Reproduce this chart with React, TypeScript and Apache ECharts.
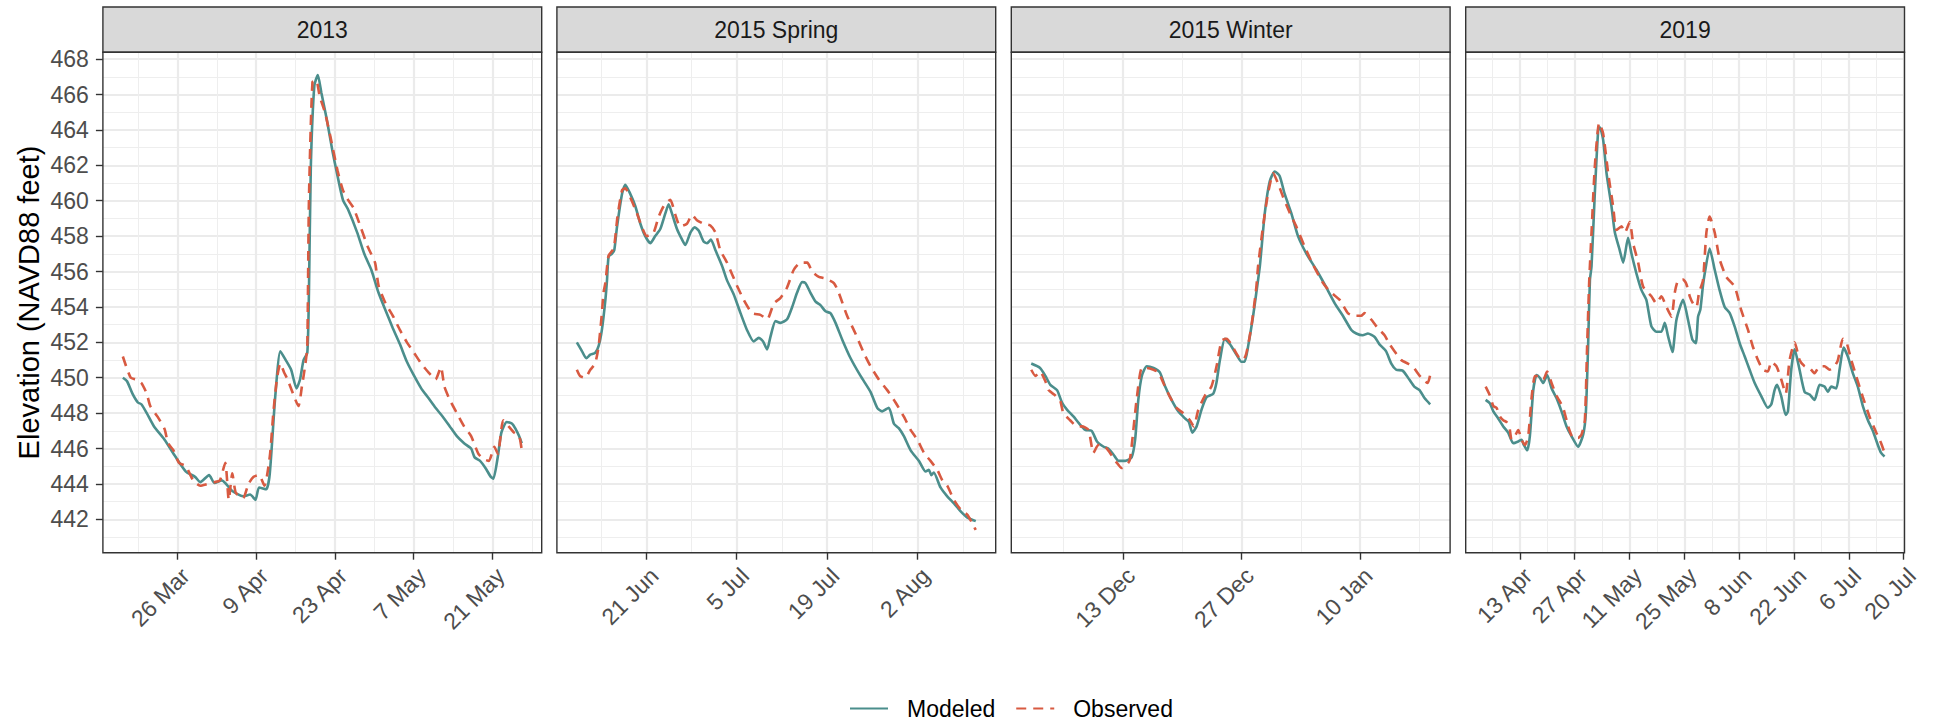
import React, { useEffect, useRef } from "react";
import * as echarts from "echarts";

// ---------------- DATA ----------------
const panelTitles = ["2013", "2015 Spring", "2015 Winter", "2019"];
const seriesNames = ["Modeled", "Observed"];
const yTitle = "Elevation (NAVD88 feet)";

const modeled2013Dates = [
  "2013-03-16 07", "2013-03-17 01", "2013-03-18 00", "2013-03-18 23", "2013-03-19 14", "2013-03-20 13",
  "2013-03-21 20", "2013-03-23 17", "2013-03-25 15", "2013-03-27 12", "2013-03-29 03", "2013-03-30 01",
  "2013-03-31 15", "2013-04-01 14", "2013-04-02 21", "2013-04-04 18", "2013-04-06 16", "2013-04-07 22",
  "2013-04-08 21", "2013-04-09 12", "2013-04-10 19", "2013-04-11 10", "2013-04-12 09", "2013-04-13 07",
  "2013-04-14 06", "2013-04-15 05", "2013-04-16 04", "2013-04-16 19", "2013-04-17 10", "2013-04-18 02",
  "2013-04-18 09", "2013-04-18 17", "2013-04-19 08", "2013-04-19 23", "2013-04-20 14", "2013-04-21 13",
  "2013-04-22 12", "2013-04-23 11", "2013-04-24 10", "2013-04-25 08", "2013-04-26 23", "2013-04-28 05",
  "2013-04-29 11", "2013-04-30 18", "2013-05-02 00", "2013-05-03 07", "2013-05-04 13", "2013-05-05 19",
  "2013-05-07 02", "2013-05-08 08", "2013-05-09 15", "2013-05-10 21", "2013-05-12 04", "2013-05-13 10",
  "2013-05-14 16", "2013-05-15 23", "2013-05-17 05", "2013-05-17 20", "2013-05-18 19", "2013-05-19 18",
  "2013-05-20 17", "2013-05-21 04", "2013-05-21 23", "2013-05-22 14", "2013-05-23 13", "2013-05-24 12",
  "2013-05-25 03", "2013-05-25 18", "2013-05-26 05",
];
const modeled2013Values = [
  450.0, 449.8, 449.1, 448.6, 448.5, 448.0,
  447.25, 446.5, 445.55, 444.7, 444.4, 444.1,
  444.5, 444.05, 444.2, 443.6, 443.3, 443.4,
  443.1, 443.8, 443.7, 444.6, 448.9, 451.5,
  451.0, 450.45, 449.4, 449.9, 451.0, 451.4,
  454.8, 461.9, 466.5, 467.1, 466.1, 464.6,
  462.9, 461.4, 460.05, 459.5, 458.2, 457.0,
  456.1, 454.8, 453.8, 452.8, 451.9, 450.9,
  450.1, 449.4, 448.85, 448.3, 447.8, 447.25,
  446.7, 446.3, 446.0, 445.5, 445.3, 444.9,
  444.4, 444.3, 445.55, 446.9, 447.5, 447.4,
  447.1, 446.7, 446.3,
];

const observed2013Dates = [
  "2013-03-16 07", "2013-03-17 01", "2013-03-17 17", "2013-03-18 16", "2013-03-19 14", "2013-03-20 13",
  "2013-03-21 04", "2013-03-22 11", "2013-03-23 17", "2013-03-24 08", "2013-03-25 07", "2013-03-26 06",
  "2013-03-27 12", "2013-03-28 19", "2013-03-30 01", "2013-03-31 08", "2013-04-01 14", "2013-04-02 13",
  "2013-04-03 12", "2013-04-04 03", "2013-04-04 18", "2013-04-05 09", "2013-04-06 16", "2013-04-07 15",
  "2013-04-08 13", "2013-04-09 12", "2013-04-10 11", "2013-04-11 10", "2013-04-12 01", "2013-04-12 16",
  "2013-04-13 07", "2013-04-13 23", "2013-04-14 14", "2013-04-15 13", "2013-04-16 12", "2013-04-17 03",
  "2013-04-17 18", "2013-04-18 02", "2013-04-18 09", "2013-04-19 00", "2013-04-19 16", "2013-04-20 07",
  "2013-04-21 06", "2013-04-22 05", "2013-04-23 11", "2013-04-24 10", "2013-04-25 08", "2013-04-26 07",
  "2013-04-27 14", "2013-04-28 20", "2013-04-30 03", "2013-04-30 18", "2013-05-02 00", "2013-05-03 07",
  "2013-05-04 13", "2013-05-05 19", "2013-05-07 02", "2013-05-08 08", "2013-05-09 15", "2013-05-10 21",
  "2013-05-11 20", "2013-05-12 11", "2013-05-13 10", "2013-05-14 16", "2013-05-15 23", "2013-05-17 05",
  "2013-05-18 12", "2013-05-19 11", "2013-05-20 09", "2013-05-21 08", "2013-05-21 23", "2013-05-22 22",
  "2013-05-23 21", "2013-05-24 20", "2013-05-25 18", "2013-05-26 05",
];
const observed2013Values = [
  451.2, 450.5, 450.0, 449.9, 449.7, 449.1,
  448.4, 447.8, 447.1, 446.3, 445.9, 445.2,
  445.0, 444.2, 443.9, 444.0, 444.1, 444.2,
  445.2, 443.1, 444.6, 443.5, 443.2, 444.0,
  444.4, 444.5, 443.9, 445.55, 448.0, 449.9,
  450.8, 450.3, 449.9, 449.1, 448.4, 449.5,
  450.8, 451.8, 460.05, 466.7, 466.8, 465.9,
  464.95, 463.6, 461.7, 460.6, 460.05, 459.6,
  458.5, 457.4, 456.5, 455.2, 454.2, 453.5,
  452.7, 452.0, 451.4, 450.8, 450.3, 449.9,
  450.6, 449.5, 448.75, 448.0, 447.25, 446.7,
  445.7, 445.4, 445.3, 446.1, 445.7, 447.6,
  447.25, 446.9, 446.7, 445.9,
];

const modeled2015SpringDates = [
  "2015-06-10 06", "2015-06-11 01", "2015-06-11 17", "2015-06-12 08", "2015-06-13 02", "2015-06-13 15",
  "2015-06-14 03", "2015-06-14 16", "2015-06-14 22", "2015-06-15 04", "2015-06-15 16", "2015-06-16 01",
  "2015-06-16 11", "2015-06-17 06", "2015-06-17 18", "2015-06-18 12", "2015-06-19 07", "2015-06-20 02",
  "2015-06-20 20", "2015-06-21 15", "2015-06-22 09", "2015-06-23 04", "2015-06-23 23", "2015-06-24 11",
  "2015-06-24 23", "2015-06-25 18", "2015-06-26 13", "2015-06-27 01", "2015-06-27 20", "2015-06-28 12",
  "2015-06-29 03", "2015-06-29 21", "2015-06-30 10", "2015-07-01 00", "2015-07-01 17", "2015-07-02 18",
  "2015-07-03 12", "2015-07-04 13", "2015-07-05 14", "2015-07-06 14", "2015-07-07 15", "2015-07-08 10",
  "2015-07-09 02", "2015-07-09 17", "2015-07-10 05", "2015-07-11 00", "2015-07-11 18", "2015-07-12 19",
  "2015-07-13 14", "2015-07-14 08", "2015-07-15 03", "2015-07-15 15", "2015-07-16 10", "2015-07-17 05",
  "2015-07-17 23", "2015-07-18 18", "2015-07-19 12", "2015-07-20 07", "2015-07-21 08", "2015-07-22 15",
  "2015-07-24 04", "2015-07-25 17", "2015-07-26 18", "2015-07-27 12", "2015-07-28 13", "2015-07-29 08",
  "2015-07-30 02", "2015-07-30 21", "2015-07-31 22", "2015-08-02 05", "2015-08-03 06", "2015-08-03 18",
  "2015-08-04 03", "2015-08-04 12", "2015-08-05 13", "2015-08-06 14", "2015-08-07 15", "2015-08-08 16",
  "2015-08-09 17", "2015-08-11 00",
];
const modeled2015SpringValues = [
  452.0, 451.5, 451.1, 451.3, 451.4, 451.8,
  452.7, 454.4, 455.5, 456.85, 457.0, 457.2,
  458.5, 460.4, 460.9, 460.4, 459.7, 458.7,
  458.0, 457.6, 458.0, 458.4, 459.3, 459.8,
  459.3, 458.4, 457.8, 457.5, 458.2, 458.5,
  458.3, 457.7, 457.6, 457.8, 457.2, 456.3,
  455.5, 454.7, 453.65, 452.7, 452.05, 452.25,
  452.05, 451.6, 452.3, 453.2, 453.1, 453.3,
  454.0, 454.8, 455.4, 455.35, 454.8, 454.3,
  454.1, 453.75, 453.65, 453.1, 452.15, 451.1,
  450.1, 449.2, 448.3, 448.1, 448.3, 447.4,
  447.15, 446.7, 445.9, 445.3, 444.7, 444.8,
  444.5, 444.65, 443.8, 443.3, 442.9, 442.45,
  442.1, 441.9,
];

const observed2015SpringDates = [
  "2015-06-10 06", "2015-06-10 18", "2015-06-11 13", "2015-06-12 08", "2015-06-13 02", "2015-06-13 15",
  "2015-06-14 03", "2015-06-14 09", "2015-06-14 16", "2015-06-15 04", "2015-06-15 23", "2015-06-16 13",
  "2015-06-17 06", "2015-06-17 18", "2015-06-18 12", "2015-06-19 13", "2015-06-20 08", "2015-06-21 02",
  "2015-06-22 03", "2015-06-22 22", "2015-06-23 17", "2015-06-24 17", "2015-06-25 12", "2015-06-26 06",
  "2015-06-27 07", "2015-06-28 02", "2015-06-28 20", "2015-06-29 21", "2015-06-30 22", "2015-07-01 17",
  "2015-07-02 11", "2015-07-03 12", "2015-07-05 01", "2015-07-06 02", "2015-07-07 09", "2015-07-08 16",
  "2015-07-09 17", "2015-07-10 18", "2015-07-11 18", "2015-07-12 19", "2015-07-13 20", "2015-07-14 21",
  "2015-07-15 22", "2015-07-16 16", "2015-07-17 17", "2015-07-18 18", "2015-07-20 01", "2015-07-20 19",
  "2015-07-22 02", "2015-07-23 09", "2015-07-24 16", "2015-07-25 17", "2015-07-27 00", "2015-07-28 07",
  "2015-07-29 14", "2015-07-30 21", "2015-07-31 22", "2015-08-01 23", "2015-08-03 00", "2015-08-04 00",
  "2015-08-05 01", "2015-08-05 20", "2015-08-06 14", "2015-08-07 15", "2015-08-08 16", "2015-08-09 17",
  "2015-08-10 17", "2015-08-11 00",
];
const observed2015SpringValues = [
  450.45, 450.1, 450.0, 450.45, 450.8, 451.8,
  453.65, 454.8, 455.35, 456.9, 457.3, 459.1,
  460.6, 460.7, 460.2, 459.3, 458.5, 458.0,
  458.2, 459.1, 459.7, 460.05, 459.2, 458.55,
  458.7, 459.2, 458.9, 458.7, 458.6, 458.2,
  457.2, 456.5, 455.2, 454.4, 453.65, 453.55,
  453.3, 454.2, 454.5, 455.1, 456.1, 456.5,
  456.5, 456.0, 455.7, 455.6, 455.35, 454.8,
  453.5, 452.5, 451.4, 450.65, 449.9, 449.3,
  448.6, 447.8, 447.05, 446.5, 445.75, 445.3,
  444.8, 444.2, 443.9, 443.1, 442.55, 442.25,
  441.6, 441.4,
];

const modeled2015WinterDates = [
  "2015-12-02 05", "2015-12-03 06", "2015-12-03 21", "2015-12-04 11", "2015-12-05 06", "2015-12-05 20",
  "2015-12-06 10", "2015-12-07 05", "2015-12-07 19", "2015-12-08 14", "2015-12-09 08", "2015-12-09 23",
  "2015-12-10 18", "2015-12-11 07", "2015-12-11 22", "2015-12-12 12", "2015-12-13 07", "2015-12-14 01",
  "2015-12-14 11", "2015-12-14 20", "2015-12-15 06", "2015-12-15 20", "2015-12-16 15", "2015-12-17 09",
  "2015-12-18 00", "2015-12-18 18", "2015-12-19 13", "2015-12-20 08", "2015-12-20 19", "2015-12-21 05",
  "2015-12-21 17", "2015-12-22 07", "2015-12-22 21", "2015-12-23 16", "2015-12-24 01", "2015-12-24 11",
  "2015-12-25 01", "2015-12-25 15", "2015-12-26 10", "2015-12-27 00", "2015-12-27 09", "2015-12-27 19",
  "2015-12-28 09", "2015-12-28 18", "2015-12-29 04", "2015-12-29 18", "2015-12-30 08", "2015-12-30 22",
  "2015-12-31 12", "2016-01-01 02", "2016-01-01 21", "2016-01-02 16", "2016-01-03 16", "2016-01-04 20",
  "2016-01-06 00", "2016-01-07 00", "2016-01-07 23", "2016-01-08 23", "2016-01-09 13", "2016-01-10 07",
  "2016-01-10 22", "2016-01-11 17", "2016-01-12 06", "2016-01-13 01", "2016-01-13 16", "2016-01-14 06",
  "2016-01-15 00", "2016-01-15 19", "2016-01-16 09", "2016-01-17 00", "2016-01-17 14", "2016-01-18 06",
];
const modeled2015WinterValues = [
  450.8, 450.55, 450.1, 449.6, 449.3, 448.6,
  448.2, 447.8, 447.45, 447.05, 447.0, 446.4,
  446.1, 446.0, 445.65, 445.3, 445.3, 445.5,
  446.5, 448.75, 450.1, 450.65, 450.55, 450.3,
  449.5, 448.75, 448.1, 447.7, 447.5, 446.9,
  447.25, 448.2, 448.9, 449.1, 449.7, 451.0,
  452.2, 451.9, 451.3, 450.9, 450.9, 451.8,
  453.5, 454.8, 456.3, 459.3, 461.1, 461.65,
  461.4, 460.4, 459.3, 458.0, 457.0, 456.1,
  455.1, 454.2, 453.5, 452.7, 452.5, 452.4,
  452.5, 452.3, 451.9, 451.5, 450.8, 450.45,
  450.4, 449.9, 449.5, 449.3, 448.85, 448.5,
];

const observed2015WinterDates = [
  "2015-12-02 05", "2015-12-02 17", "2015-12-03 06", "2015-12-03 21", "2015-12-04 06", "2015-12-05 01",
  "2015-12-05 15", "2015-12-06 00", "2015-12-06 19", "2015-12-07 14", "2015-12-08 04", "2015-12-08 23",
  "2015-12-09 13", "2015-12-10 03", "2015-12-10 22", "2015-12-11 12", "2015-12-12 07", "2015-12-12 21",
  "2015-12-13 07", "2015-12-13 19", "2015-12-14 01", "2015-12-14 16", "2015-12-15 06", "2015-12-15 20",
  "2015-12-16 15", "2015-12-17 05", "2015-12-17 19", "2015-12-18 14", "2015-12-19 08", "2015-12-20 03",
  "2015-12-20 22", "2015-12-21 09", "2015-12-21 22", "2015-12-22 17", "2015-12-23 11", "2015-12-24 01",
  "2015-12-24 16", "2015-12-25 06", "2015-12-25 20", "2015-12-26 15", "2015-12-27 05", "2015-12-27 14",
  "2015-12-28 04", "2015-12-28 18", "2015-12-28 23", "2015-12-29 13", "2015-12-30 03", "2015-12-30 18",
  "2015-12-31 07", "2015-12-31 22", "2016-01-01 17", "2016-01-02 11", "2016-01-03 11", "2016-01-04 10",
  "2016-01-05 15", "2016-01-06 09", "2016-01-07 14", "2016-01-08 13", "2016-01-09 08", "2016-01-10 03",
  "2016-01-10 12", "2016-01-11 07", "2016-01-12 02", "2016-01-12 21", "2016-01-13 11", "2016-01-14 01",
  "2016-01-14 20", "2016-01-15 15", "2016-01-16 05", "2016-01-16 19", "2016-01-17 09", "2016-01-17 23",
  "2016-01-18 06",
];
const observed2015WinterValues = [
  450.45, 450.1, 450.35, 449.8, 449.3, 449.0,
  448.7, 448.0, 447.6, 447.25, 447.25, 447.05,
  445.75, 446.2, 446.1, 445.75, 445.2, 444.9,
  445.0, 445.3, 446.1, 448.9, 450.55, 450.55,
  450.45, 450.3, 449.7, 448.9, 448.3, 448.0,
  447.6, 447.25, 448.2, 449.0, 449.5, 450.6,
  452.1, 452.2, 451.85, 451.2, 451.0, 451.4,
  452.9, 455.1, 456.3, 458.55, 460.4, 461.55,
  461.0, 460.2, 459.3, 458.55, 457.4, 456.4,
  455.35, 454.9, 454.4, 453.65, 453.5, 453.5,
  453.65, 453.3, 452.8, 452.4, 451.9, 451.5,
  451.0, 450.8, 450.65, 450.25, 449.9, 449.7,
  450.15,
];

const modeled2019Dates = [
  "2019-04-04 06", "2019-04-05 08", "2019-04-06 05", "2019-04-07 11", "2019-04-08 18", "2019-04-10 00",
  "2019-04-11 07", "2019-04-12 14", "2019-04-13 10", "2019-04-14 00", "2019-04-14 21", "2019-04-15 13",
  "2019-04-16 10", "2019-04-17 06", "2019-04-18 02", "2019-04-18 23", "2019-04-19 23", "2019-04-21 02",
  "2019-04-22 08", "2019-04-23 15", "2019-04-24 22", "2019-04-26 04", "2019-04-27 21", "2019-04-29 04",
  "2019-04-29 20", "2019-04-30 10", "2019-04-30 21", "2019-05-01 07", "2019-05-02 03", "2019-05-03 00",
  "2019-05-03 10", "2019-05-04 06", "2019-05-05 03", "2019-05-06 09", "2019-05-07 06", "2019-05-08 12",
  "2019-05-09 09", "2019-05-10 15", "2019-05-11 12", "2019-05-12 18", "2019-05-14 01", "2019-05-15 07",
  "2019-05-16 14", "2019-05-17 21", "2019-05-19 03", "2019-05-20 00", "2019-05-20 20", "2019-05-21 23",
  "2019-05-22 23", "2019-05-24 16", "2019-05-25 23", "2019-05-27 01", "2019-05-27 22", "2019-05-28 12",
  "2019-05-29 02", "2019-05-29 18", "2019-05-30 05", "2019-05-31 11", "2019-06-01 18", "2019-06-03 00",
  "2019-06-04 07", "2019-06-05 14", "2019-06-06 20", "2019-06-08 03", "2019-06-09 10", "2019-06-10 16",
  "2019-06-11 23", "2019-06-13 16", "2019-06-15 08", "2019-06-16 05", "2019-06-17 01", "2019-06-17 16",
  "2019-06-18 18", "2019-06-19 21", "2019-06-20 11", "2019-06-21 07", "2019-06-22 04", "2019-06-23 10",
  "2019-06-24 17", "2019-06-26 00", "2019-06-27 06", "2019-06-28 13", "2019-06-29 19", "2019-06-30 16",
  "2019-07-01 12", "2019-07-02 19", "2019-07-03 15", "2019-07-04 16", "2019-07-05 18", "2019-07-07 01",
  "2019-07-08 07", "2019-07-09 14", "2019-07-10 21", "2019-07-12 03", "2019-07-13 10", "2019-07-14 06",
  "2019-07-15 03",
];
const modeled2019Values = [
  448.75, 448.55, 448.1, 447.7, 447.25, 446.9,
  446.3, 446.4, 446.5, 446.2, 445.9, 446.7,
  449.3, 450.15, 450.0, 449.7, 450.15, 449.4,
  448.85, 448.1, 447.25, 446.7, 446.1, 446.8,
  448.0, 451.8, 455.5, 456.3, 460.4, 464.0,
  464.15, 463.45, 461.55, 459.7, 458.2, 457.2,
  456.5, 457.9, 457.0, 455.9, 454.95, 454.4,
  452.9, 452.6, 452.6, 453.1, 452.35, 451.45,
  453.25, 454.4, 453.25, 452.15, 451.95, 453.45,
  453.85, 455.2, 455.9, 457.3, 456.1, 454.95,
  454.0, 453.65, 452.9, 451.95, 451.2, 450.45,
  449.7, 448.95, 448.3, 448.5, 449.3, 449.6,
  448.95, 447.9, 448.1, 450.45, 451.6, 450.45,
  449.2, 449.05, 448.75, 449.6, 449.5, 449.2,
  449.5, 449.4, 450.45, 451.7, 451.2, 450.25,
  449.5, 448.4, 447.6, 447.0, 446.2, 445.75,
  445.55,
];

const observed2019Dates = [
  "2019-04-04 06", "2019-04-05 08", "2019-04-06 05", "2019-04-07 01", "2019-04-07 22", "2019-04-08 18",
  "2019-04-09 14", "2019-04-10 07", "2019-04-10 21", "2019-04-11 17", "2019-04-12 14", "2019-04-13 10",
  "2019-04-14 07", "2019-04-15 03", "2019-04-16 00", "2019-04-16 20", "2019-04-17 16", "2019-04-18 23",
  "2019-04-19 23", "2019-04-21 02", "2019-04-22 08", "2019-04-24 01", "2019-04-25 08", "2019-04-26 15",
  "2019-04-27 21", "2019-04-28 18", "2019-04-29 14", "2019-04-30 04", "2019-04-30 17", "2019-05-01 07",
  "2019-05-02 03", "2019-05-03 06", "2019-05-04 06", "2019-05-05 13", "2019-05-06 19", "2019-05-07 16",
  "2019-05-08 23", "2019-05-09 19", "2019-05-11 01", "2019-05-11 22", "2019-05-13 05", "2019-05-14 11",
  "2019-05-16 14", "2019-05-17 21", "2019-05-19 03", "2019-05-20 10", "2019-05-21 17", "2019-05-22 13",
  "2019-05-23 09", "2019-05-24 16", "2019-05-25 12", "2019-05-26 09", "2019-05-27 05", "2019-05-28 02",
  "2019-05-28 18", "2019-05-29 18", "2019-05-30 15", "2019-05-31 11", "2019-06-01 18", "2019-06-03 00",
  "2019-06-04 17", "2019-06-06 20", "2019-06-08 13", "2019-06-10 06", "2019-06-11 12", "2019-06-12 19",
  "2019-06-14 02", "2019-06-15 08", "2019-06-16 05", "2019-06-17 12", "2019-06-18 18", "2019-06-19 21",
  "2019-06-20 21", "2019-06-22 04", "2019-06-23 10", "2019-06-24 17", "2019-06-26 00", "2019-06-27 06",
  "2019-06-28 13", "2019-06-29 19", "2019-07-01 02", "2019-07-02 09", "2019-07-03 05", "2019-07-04 12",
  "2019-07-05 08", "2019-07-06 15", "2019-07-07 21", "2019-07-09 14", "2019-07-11 07", "2019-07-13 00",
  "2019-07-14 06", "2019-07-15 03",
];
const observed2019Values = [
  449.5, 449.0, 448.4, 448.3, 447.8, 447.6,
  447.5, 447.25, 446.5, 446.7, 447.05, 446.5,
  446.2, 446.7, 448.9, 450.1, 450.1, 449.9,
  450.35, 449.7, 449.0, 448.3, 447.25, 446.6,
  446.6, 446.8, 447.6, 451.8, 455.5, 458.2,
  461.9, 464.4, 463.8, 461.55, 459.7, 458.35,
  458.55, 458.2, 458.8, 457.6, 456.5, 455.15,
  454.6, 454.2, 454.6, 454.0, 453.45, 454.8,
  455.5, 455.55, 455.3, 454.6, 454.2, 454.0,
  454.8, 455.5, 458.2, 459.1, 458.2, 456.7,
  455.7, 455.15, 453.8, 452.7, 451.75, 451.0,
  450.45, 450.35, 450.9, 450.65, 449.9, 449.1,
  451.0, 452.0, 451.0, 450.65, 450.55, 450.25,
  450.65, 450.65, 450.45, 450.65, 451.0, 452.2,
  452.05, 451.0, 450.1, 448.9, 447.8, 446.9,
  446.3, 445.75,
];

// tick breaks (major labelled, minor unlabelled)
const xBreaks2013 = ["2013-03-26", "2013-04-09", "2013-04-23", "2013-05-07", "2013-05-21"];
const xMinor2013 = ["2013-03-19", "2013-04-02", "2013-04-16", "2013-04-30", "2013-05-14", "2013-05-28"];
const xBreaks2015Spring = ["2015-06-21", "2015-07-05", "2015-07-19", "2015-08-02"];
const xMinor2015Spring = ["2015-06-14", "2015-06-28", "2015-07-12", "2015-07-26", "2015-08-09"];
const xBreaks2015Winter = ["2015-12-13", "2015-12-27", "2016-01-10"];
const xMinor2015Winter = ["2015-12-06", "2015-12-20", "2016-01-03", "2016-01-17"];
const xBreaks2019 = ["2019-04-13", "2019-04-27", "2019-05-11", "2019-05-25", "2019-06-08", "2019-06-22", "2019-07-06", "2019-07-20"];
const xMinor2019 = ["2019-04-06", "2019-04-20", "2019-05-04", "2019-05-18", "2019-06-01", "2019-06-15", "2019-06-29", "2019-07-13"];
const yBreaks = [442, 444, 446, 448, 450, 452, 454, 456, 458, 460, 462, 464, 466, 468];
const yMinorBreaks = [441, 443, 445, 447, 449, 451, 453, 455, 457, 459, 461, 463, 465, 467];

// ---------------- HELPERS ----------------
const MONTHS = ["Jan", "Feb", "Mar", "Apr", "May", "Jun", "Jul", "Aug", "Sep", "Oct", "Nov", "Dec"];
const ts = (s: string) =>
  Date.UTC(+s.slice(0, 4), +s.slice(5, 7) - 1, +s.slice(8, 10), s.length > 10 ? +s.slice(11, 13) : 0);
const fmtDate = (v: number) => {
  const d = new Date(Math.round(v));
  return `${d.getUTCDate()} ${MONTHS[d.getUTCMonth()]}`;
};
const expand = (lo: number, hi: number) => {
  const r = hi - lo;
  return [lo - r * 0.05, hi + r * 0.05];
};

const panels = [
  { md: modeled2013Dates, mv: modeled2013Values, od: observed2013Dates, ov: observed2013Values, br: xBreaks2013, mi: xMinor2013 },
  { md: modeled2015SpringDates, mv: modeled2015SpringValues, od: observed2015SpringDates, ov: observed2015SpringValues, br: xBreaks2015Spring, mi: xMinor2015Spring },
  { md: modeled2015WinterDates, mv: modeled2015WinterValues, od: observed2015WinterDates, ov: observed2015WinterValues, br: xBreaks2015Winter, mi: xMinor2015Winter },
  { md: modeled2019Dates, mv: modeled2019Values, od: observed2019Dates, ov: observed2019Values, br: xBreaks2019, mi: xMinor2019 },
];

// ---------------- LAYOUT / STYLE ----------------
const FONT = "'Liberation Sans', Arial, Helvetica, sans-serif";
const W = 1938;
const H = 723;
const GRID_LEFTS = [102.9, 556.9, 1011.3, 1465.7];
const GRID_W = 438.8;
const GRID_TOP = 52.3;
const GRID_H = 500.4;
const STRIP_TOP = 7;
const COL_MOD = "#4B8E8C";
const COL_OBS = "#D85A41";
const DARK = "#333333";

function buildOption() {
  const allVals = [
    ...modeled2013Values, ...observed2013Values, ...modeled2015SpringValues, ...observed2015SpringValues,
    ...modeled2015WinterValues, ...observed2015WinterValues, ...modeled2019Values, ...observed2019Values,
  ];
  const [yMin, yMax] = expand(Math.min(...allVals), Math.max(...allVals));

  const grid: any[] = [];
  const xAxis: any[] = [];
  const yAxis: any[] = [];
  const series: any[] = [];
  const graphic: any[] = [];

  panels.forEach((p, i) => {
    const left = GRID_LEFTS[i];
    grid.push({ left, top: GRID_TOP, width: GRID_W, height: GRID_H, show: false });
    const allT = [...p.md, ...p.od].map(ts);
    const [xMin, xMax] = expand(Math.min(...allT), Math.max(...allT));
    const majors = p.br.map(ts);
    const minors = p.mi.map(ts);

    xAxis.push({
      type: "value", gridIndex: i, min: xMin, max: xMax, scale: true,
      axisLine: { show: false },
      axisTick: { show: true, length: 7, lineStyle: { color: DARK, width: 1.4 }, customValues: majors },
      axisLabel: {
        show: true, customValues: majors, rotate: 45, fontSize: 23, color: "#4D4D4D", fontFamily: FONT,
        margin: 11, align: "right", verticalAlign: "top",
        formatter: (v: number) => fmtDate(v), hideOverlap: false,
      },
      splitLine: { show: true, lineStyle: { color: "#EBEBEB", width: 2.2 } },
    });
    xAxis.push({
      type: "value", gridIndex: i, min: xMin, max: xMax, scale: true,
      axisLine: { show: false },
      axisTick: { show: false, customValues: minors },
      axisLabel: { show: false, customValues: minors },
      splitLine: { show: true, lineStyle: { color: "#EEEEEE", width: 1.1 } },
    });
    yAxis.push({
      type: "value", gridIndex: i, min: yMin, max: yMax, scale: true,
      axisLine: { show: false },
      axisTick: { show: i === 0, length: 7, lineStyle: { color: DARK, width: 1.4 }, customValues: yBreaks },
      axisLabel: { show: i === 0, customValues: yBreaks, fontSize: 23, color: "#4D4D4D", fontFamily: FONT, margin: 14 },
      splitLine: { show: true, lineStyle: { color: "#EBEBEB", width: 2.2 } },
      name: i === 0 ? yTitle : "",
      nameLocation: "middle",
      nameGap: 59,
      nameTextStyle: { fontSize: 29, color: "#000000", fontFamily: FONT },
    });
    yAxis.push({
      type: "value", gridIndex: i, min: yMin, max: yMax, scale: true,
      axisLine: { show: false },
      axisTick: { show: false, customValues: yMinorBreaks },
      axisLabel: { show: false, customValues: yMinorBreaks },
      splitLine: { show: true, lineStyle: { color: "#EEEEEE", width: 1.1 } },
    });

    series.push({
      name: seriesNames[0], type: "line", xAxisIndex: 2 * i, yAxisIndex: 2 * i,
      data: p.md.map((d, k) => [ts(d), p.mv[k]]),
      symbol: "none", showSymbol: false, smooth: 0.2, z: 3,
      lineStyle: { color: COL_MOD, width: 2.6, type: "solid" },
      itemStyle: { color: COL_MOD },
    });
    series.push({
      name: seriesNames[1], type: "line", xAxisIndex: 2 * i, yAxisIndex: 2 * i,
      data: p.od.map((d, k) => [ts(d), p.ov[k]]),
      symbol: "none", showSymbol: false, smooth: 0.2, z: 4,
      lineStyle: { color: COL_OBS, width: 2.6, type: [10, 7] },
      itemStyle: { color: COL_OBS },
    });

    // strip
    graphic.push({
      type: "rect", z: 100,
      shape: { x: left, y: STRIP_TOP, width: GRID_W, height: GRID_TOP - STRIP_TOP },
      style: { fill: "#D9D9D9", stroke: DARK, lineWidth: 1.4 },
    });
    graphic.push({
      type: "text", z: 101,
      x: left + GRID_W / 2, y: (STRIP_TOP + GRID_TOP) / 2,
      style: {
        text: panelTitles[i], fill: "#1A1A1A", font: `23px ${FONT}`,
        textAlign: "center", textVerticalAlign: "middle",
      },
    });
    // panel border
    graphic.push({
      type: "rect", z: 100,
      shape: { x: left, y: GRID_TOP, width: GRID_W, height: GRID_H },
      style: { fill: "none", stroke: DARK, lineWidth: 1.4 },
    });
  });

  return {
    animation: false,
    backgroundColor: "#ffffff",
    textStyle: { fontFamily: FONT },
    grid, xAxis, yAxis, series, graphic,
    legend: {
      data: seriesNames,
      left: 844, top: 692,
      orient: "horizontal",
      itemWidth: 38, itemHeight: 14, itemGap: 20,
      itemStyle: { opacity: 0, borderWidth: 0 },
      textStyle: { fontSize: 23, color: "#000000", fontFamily: FONT, padding: [0, 0, 0, 14] },
      selectedMode: false,
    },
  };
}

export default function App() {
  const ref = useRef<HTMLDivElement>(null);
  useEffect(() => {
    if (!ref.current) return;
    const chart = echarts.init(ref.current, undefined, { renderer: "svg" });
    chart.setOption(buildOption() as any);
    return () => chart.dispose();
  }, []);
  return (
    <div
      ref={ref}
      style={{ position: "fixed", left: 0, top: 0, width: W, height: H, background: "#ffffff" }}
    />
  );
}
